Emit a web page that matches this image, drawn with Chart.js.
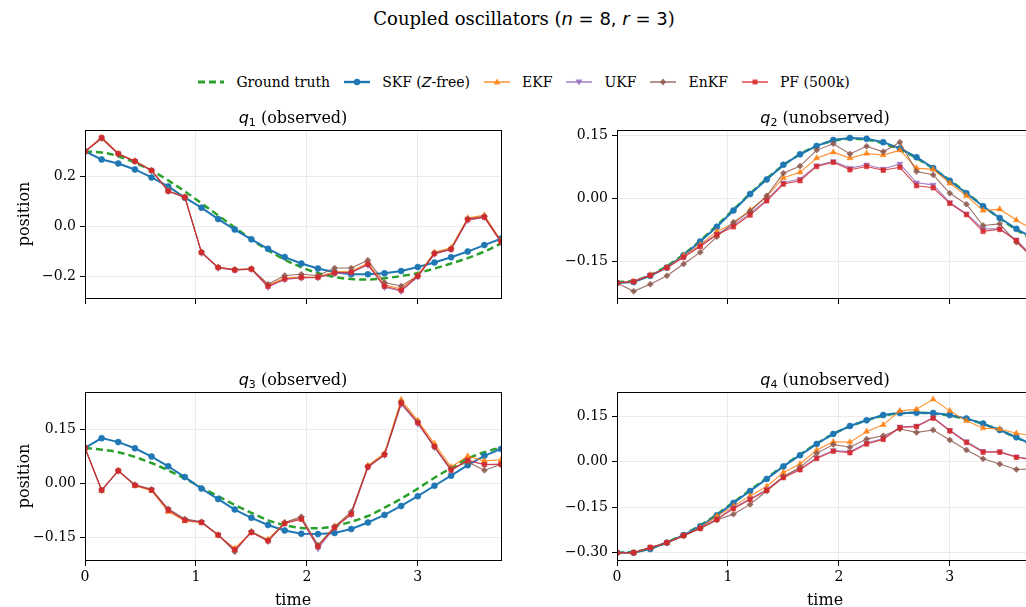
<!DOCTYPE html>
<html>
<head>
<meta charset="utf-8">
<script src="https://cdn.jsdelivr.net/npm/chart.js@4.4.1/dist/chart.umd.min.js"></script>
<style>
  html, body { margin: 0; padding: 0; background: #fff; width: 1026px; height: 607px; overflow: hidden; }
  body { position: relative; font-family: 'DejaVu Serif', serif; color: #000; }
  canvas { position: absolute; }
  .m { font-family: 'DejaVu Sans', sans-serif; }
  #title { position: absolute; left: 0; width: 1048px; top: 8px; line-height: 22px; font-size: 18px; text-align: center; }
  #legend { position: absolute; left: 0; width: 1048px; top: 73px; height: 18px; display: flex; justify-content: center; align-items: center; font-size: 14px; }
  #legend .item { display: flex; align-items: center; margin: 0 7px; }
  #legend svg { margin-right: 12px; }
  .sub { position: absolute; width: 416px; text-align: center; font-size: 16px; line-height: 20px; z-index: 2; }
  .sub sub { font-size: 11px; vertical-align: -3px; line-height: 0; }
</style>
</head>
<body>
<div id="title">Coupled oscillators (<span class="m"><i>n</i> = 8, <i>r</i> = 3</span>)</div>
<div id="legend"></div>

<div class="sub" style="left:85px;top:108px"><i class="m">q</i><sub class="m">1</sub> (observed)</div>
<div class="sub" style="left:617px;top:108px"><i class="m">q</i><sub class="m">2</sub> (unobserved)</div>
<div class="sub" style="left:85px;top:370px"><i class="m">q</i><sub class="m">3</sub> (observed)</div>
<div class="sub" style="left:617px;top:370px"><i class="m">q</i><sub class="m">4</sub> (unobserved)</div>

<canvas id="c1" width="505" height="198" style="left:0;top:116px"></canvas>
<canvas id="c2" width="505" height="198" style="left:532px;top:116px"></canvas>
<canvas id="c3" width="505" height="229" style="left:0;top:378px"></canvas>
<canvas id="c4" width="505" height="229" style="left:532px;top:378px"></canvas>

<script>
const time = [0, 0.15, 0.3, 0.45, 0.6, 0.75, 0.9, 1.05, 1.2, 1.35, 1.5, 1.65, 1.8,
  1.95, 2.1, 2.25, 2.4, 2.55, 2.7, 2.85, 3.0, 3.15, 3.3, 3.45, 3.6, 3.75];
const xTicks = [0, 1, 2, 3];

// q1 (observed)
const gt1   = [0.300, 0.296, 0.281, 0.255, 0.224, 0.184, 0.140, 0.092, 0.044, -0.005, -0.052, -0.096, -0.133, -0.164, -0.187, -0.203, -0.211, -0.213, -0.208, -0.199, -0.187, -0.169, -0.149, -0.127, -0.101, -0.069];
const skf1  = [0.300, 0.268, 0.252, 0.228, 0.196, 0.160, 0.115, 0.075, 0.029, -0.013, -0.052, -0.090, -0.123, -0.149, -0.169, -0.184, -0.192, -0.192, -0.188, -0.179, -0.163, -0.145, -0.124, -0.101, -0.075, -0.049];
const ekf1  = [0.300, 0.357, 0.292, 0.262, 0.224, 0.143, 0.118, -0.103, -0.163, -0.173, -0.170, -0.236, -0.207, -0.203, -0.202, -0.182, -0.180, -0.148, -0.235, -0.250, -0.196, -0.104, -0.086, 0.033, 0.045, -0.058];
const ukf1  = [0.300, 0.354, 0.290, 0.260, 0.223, 0.140, 0.116, -0.107, -0.167, -0.176, -0.172, -0.243, -0.213, -0.207, -0.206, -0.189, -0.186, -0.155, -0.244, -0.260, -0.202, -0.111, -0.093, 0.025, 0.036, -0.064];
const enkf1 = [0.300, 0.352, 0.290, 0.261, 0.224, 0.142, 0.117, -0.103, -0.164, -0.173, -0.170, -0.232, -0.197, -0.192, -0.197, -0.167, -0.167, -0.136, -0.225, -0.239, -0.198, -0.107, -0.090, 0.030, 0.040, -0.060];
const pf1   = [0.300, 0.355, 0.291, 0.261, 0.224, 0.141, 0.117, -0.105, -0.165, -0.175, -0.171, -0.240, -0.211, -0.205, -0.204, -0.187, -0.184, -0.152, -0.240, -0.256, -0.200, -0.109, -0.092, 0.027, 0.037, -0.063];

// q2 (unobserved)
const gt2   = [-0.200, -0.197, -0.183, -0.162, -0.134, -0.101, -0.065, -0.027, 0.011, 0.047, 0.079, 0.105, 0.125, 0.137, 0.142, 0.140, 0.131, 0.116, 0.096, 0.071, 0.043, 0.013, -0.018, -0.048, -0.075, -0.099];
const skf2  = [-0.202, -0.200, -0.185, -0.165, -0.136, -0.103, -0.068, -0.029, 0.010, 0.045, 0.080, 0.105, 0.125, 0.139, 0.144, 0.142, 0.134, 0.119, 0.098, 0.072, 0.042, 0.012, -0.019, -0.047, -0.073, -0.095];
const ekf2  = [-0.202, -0.198, -0.183, -0.165, -0.137, -0.111, -0.079, -0.060, -0.028, 0.004, 0.049, 0.062, 0.096, 0.110, 0.096, 0.107, 0.103, 0.115, 0.072, 0.069, 0.036, 0.006, -0.029, -0.026, -0.052, -0.075];
const ukf2  = [-0.202, -0.198, -0.183, -0.165, -0.140, -0.113, -0.085, -0.064, -0.036, -0.004, 0.037, 0.046, 0.078, 0.088, 0.072, 0.080, 0.070, 0.082, 0.037, 0.032, -0.010, -0.037, -0.073, -0.073, -0.099, -0.140];
const enkf2 = [-0.202, -0.222, -0.205, -0.185, -0.157, -0.129, -0.092, -0.057, -0.031, 0.006, 0.060, 0.077, 0.115, 0.130, 0.106, 0.124, 0.111, 0.134, 0.064, 0.056, 0.012, -0.014, -0.065, -0.061, -0.105, -0.140];
const pf2   = [-0.202, -0.199, -0.184, -0.166, -0.141, -0.115, -0.087, -0.068, -0.040, -0.006, 0.034, 0.042, 0.076, 0.086, 0.068, 0.076, 0.067, 0.074, 0.030, 0.025, -0.012, -0.039, -0.079, -0.074, -0.101, -0.145];

// q3 (observed)
const gt3   = [0.099, 0.094, 0.087, 0.074, 0.057, 0.037, 0.014, -0.011, -0.035, -0.059, -0.081, -0.102, -0.115, -0.123, -0.124, -0.118, -0.106, -0.090, -0.067, -0.042, -0.014, 0.016, 0.043, 0.069, 0.087, 0.100];
const skf3  = [0.099, 0.126, 0.115, 0.098, 0.075, 0.048, 0.018, -0.014, -0.043, -0.072, -0.095, -0.115, -0.130, -0.139, -0.140, -0.137, -0.126, -0.108, -0.087, -0.062, -0.035, -0.006, 0.022, 0.051, 0.077, 0.096];
const ekf3  = [0.099, -0.020, 0.037, -0.006, -0.020, -0.078, -0.104, -0.108, -0.143, -0.180, -0.134, -0.155, -0.108, -0.096, -0.172, -0.118, -0.083, 0.050, 0.084, 0.233, 0.175, 0.111, 0.046, 0.076, 0.063, 0.066];
const ukf3  = [0.099, -0.019, 0.035, -0.004, -0.017, -0.072, -0.100, -0.107, -0.142, -0.185, -0.134, -0.160, -0.110, -0.097, -0.180, -0.122, -0.086, 0.045, 0.079, 0.220, 0.166, 0.100, 0.036, 0.064, 0.052, 0.052];
const enkf3 = [0.099, -0.018, 0.036, -0.003, -0.016, -0.070, -0.098, -0.106, -0.142, -0.189, -0.133, -0.158, -0.108, -0.092, -0.171, -0.120, -0.078, 0.048, 0.081, 0.226, 0.170, 0.102, 0.041, 0.060, 0.037, 0.053];
const pf3   = [0.099, -0.018, 0.035, -0.005, -0.018, -0.074, -0.102, -0.108, -0.143, -0.183, -0.136, -0.159, -0.111, -0.099, -0.175, -0.122, -0.085, 0.046, 0.080, 0.223, 0.169, 0.103, 0.037, 0.065, 0.053, 0.054];

// q4 (unobserved)
const gt4   = [-0.300, -0.297, -0.286, -0.266, -0.240, -0.210, -0.174, -0.134, -0.094, -0.054, -0.014, 0.023, 0.059, 0.091, 0.116, 0.136, 0.151, 0.159, 0.161, 0.158, 0.151, 0.140, 0.124, 0.103, 0.079, 0.053];
const skf4  = [-0.300, -0.300, -0.288, -0.267, -0.242, -0.213, -0.177, -0.136, -0.097, -0.057, -0.016, 0.021, 0.058, 0.091, 0.117, 0.136, 0.153, 0.160, 0.161, 0.160, 0.153, 0.142, 0.125, 0.104, 0.080, 0.055];
const ekf4  = [-0.300, -0.300, -0.284, -0.267, -0.245, -0.217, -0.180, -0.147, -0.113, -0.082, -0.036, -0.008, 0.038, 0.065, 0.064, 0.099, 0.121, 0.167, 0.172, 0.205, 0.167, 0.134, 0.110, 0.107, 0.093, 0.085];
const ukf4  = [-0.300, -0.300, -0.283, -0.266, -0.243, -0.218, -0.189, -0.152, -0.122, -0.092, -0.050, -0.024, 0.013, 0.037, 0.032, 0.061, 0.076, 0.114, 0.117, 0.145, 0.103, 0.066, 0.034, 0.033, 0.016, 0.008];
const enkf4 = [-0.300, -0.300, -0.285, -0.267, -0.245, -0.220, -0.192, -0.173, -0.141, -0.097, -0.049, -0.019, 0.027, 0.056, 0.047, 0.074, 0.085, 0.107, 0.096, 0.104, 0.071, 0.038, 0.009, -0.008, -0.026, -0.024];
const pf4   = [-0.300, -0.300, -0.282, -0.267, -0.243, -0.220, -0.191, -0.155, -0.125, -0.095, -0.053, -0.027, 0.010, 0.034, 0.029, 0.058, 0.073, 0.112, 0.115, 0.143, 0.101, 0.063, 0.031, 0.031, 0.014, 0.005];

const yTicks1 = [-0.2, 0, 0.2];
const yTicks2 = [-0.15, 0, 0.15];
const yTicks3 = [-0.15, 0, 0.15];
const yTicks4 = [-0.3, -0.15, 0, 0.15];

const FONT = "'DejaVu Serif', serif";

// one entry per method: legend + dataset style
const methods = [
  { key: 'gt',   label: 'Ground truth', color: '#2ca02c', width: 2.5, dash: [7, 4], marker: null },
  { key: 'skf',  label: 'SKF (<i class="m">Z</i>-free)', color: '#1f77b4', width: 2, marker: 'circle', r: 3 },
  { key: 'ekf',  label: 'EKF',  color: 'rgba(255,127,14,0.85)',  width: 1.1, marker: 'triangle', r: 3.4 },
  { key: 'ukf',  label: 'UKF',  color: 'rgba(148,103,189,0.85)', width: 1.1, marker: 'triangle', rot: 180, r: 3.4 },
  { key: 'enkf', label: 'EnKF', color: 'rgba(140,86,75,0.85)',   width: 1.1, marker: 'rectRot', r: 3 },
  { key: 'pf',   label: 'PF (500k)', color: 'rgba(214,39,40,0.85)', width: 1.1, marker: 'rect', r: 3.2 },
];

function legendIcon(m) {
  let mk = '';
  const c = m.color;
  if (m.marker === 'circle') mk = `<circle cx="13" cy="6" r="3.2" fill="${c}"/>`;
  if (m.marker === 'triangle' && !m.rot) mk = `<polygon points="13,2.5 16.5,8.5 9.5,8.5" fill="${c}"/>`;
  if (m.marker === 'triangle' && m.rot) mk = `<polygon points="13,9.5 16.5,3.5 9.5,3.5" fill="${c}"/>`;
  if (m.marker === 'rectRot') mk = `<polygon points="13,2.5 16,6 13,9.5 10,6" fill="${c}"/>`;
  if (m.marker === 'rect') mk = `<rect x="10.5" y="3.5" width="5" height="5" fill="${c}"/>`;
  const dash = m.dash ? `stroke-dasharray="${m.dash.join(',')}"` : '';
  return `<svg width="26" height="12"><line x1="0" y1="6" x2="26" y2="6" stroke="${c}" stroke-width="${m.width + 0.4}" ${dash}/>${mk}</svg>`;
}
document.getElementById('legend').innerHTML = methods.map((m) =>
  `<div class="item">${legendIcon(m)}<span>${m.label}</span></div>`).join('');

function datasets(values) {
  return methods.map((m, i) => ({
    label: m.key,
    data: values[i].map((y, j) => ({ x: time[j], y })),
    borderColor: m.color,
    backgroundColor: m.color,
    borderWidth: m.width,
    borderDash: m.dash || [],
    pointRadius: m.marker ? m.r : 0,
    pointStyle: m.marker || 'circle',
    pointRotation: m.rot || 0,
    pointBorderWidth: 0.6,
    pointBorderColor: m.color,
    pointBackgroundColor: m.color,
    cubicInterpolationMode: m.key === 'gt' ? 'monotone' : 'default',
    tension: 0,
    clip: 0,
    order: methods.length - i, // later methods drawn on top
  }));
}

const frame = {
  id: 'frame',
  afterDatasetsDraw(chart) {
    const { ctx, chartArea: a } = chart;
    ctx.save();
    ctx.strokeStyle = '#000';
    ctx.lineWidth = 1;
    ctx.strokeRect(Math.round(a.left) + 0.5, Math.round(a.top) + 0.5,
      Math.round(a.right - a.left), Math.round(a.bottom - a.top));
    ctx.restore();
  },
};

function fmt(dec) {
  return (v) => (v < -1e-9 ? '\u2212' : '') + Math.abs(v).toFixed(dec);
}

function panel(id, values, yMin, yMax, yTicks, dec, bottomRow, leftCol) {
  new Chart(document.getElementById(id), {
    type: 'line',
    data: { datasets: datasets(values) },
    options: {
      responsive: false,
      animation: false,
      events: [],
      layout: { padding: { top: 14, right: 4, bottom: 0, left: 0 }, autoPadding: false },
      plugins: { legend: { display: false }, tooltip: { enabled: false } },
      scales: {
        x: {
          type: 'linear', min: 0, max: 3.75,
          afterBuildTicks: (s) => { s.ticks = xTicks.map((v) => ({ value: v })); },
          afterFit: (s) => { s.height = bottomRow ? 47 : 16; },
          border: { display: false },
          grid: { color: '#e6e6e6', lineWidth: 0.8, tickColor: '#000', tickLength: 6, tickWidth: 1 },
          ticks: {
            callback: (v) => (bottomRow ? String(v) : ''),
            font: { family: FONT, size: 14 }, color: '#000', padding: 3,
            maxRotation: 0, autoSkip: false,
          },
          title: {
            display: bottomRow, text: 'time', color: '#000',
            font: { family: FONT, size: 16, lineHeight: 0.75 }, padding: { top: 0, bottom: 0 },
          },
        },
        y: {
          min: yMin, max: yMax,
          afterBuildTicks: (s) => { s.ticks = yTicks.map((v) => ({ value: v })); },
          afterFit: (s) => { s.width = 85; },
          border: { display: false },
          grid: { color: '#e6e6e6', lineWidth: 0.8, tickColor: '#000', tickLength: 5, tickWidth: 1 },
          ticks: { callback: fmt(dec), font: { family: FONT, size: 14 }, color: '#000', padding: 4 },
          title: {
            display: leftCol, text: 'position', color: '#000',
            font: { family: FONT, size: 16, lineHeight: 1 }, padding: { top: 17, bottom: 0 },
          },
        },
      },
    },
    plugins: [frame],
  });
}

panel('c1', [gt1, skf1, ekf1, ukf1, enkf1, pf1], -0.287, 0.386, yTicks1, 1, false, true);
panel('c2', [gt2, skf2, ekf2, ukf2, enkf2, pf2], -0.238, 0.163, yTicks2, 2, false, false);
panel('c3', [gt3, skf3, ekf3, ukf3, enkf3, pf3], -0.212, 0.254, yTicks3, 2, true, true);
panel('c4', [gt4, skf4, ekf4, ukf4, enkf4, pf4], -0.324, 0.229, yTicks4, 2, true, false);
</script>
</body>
</html>
